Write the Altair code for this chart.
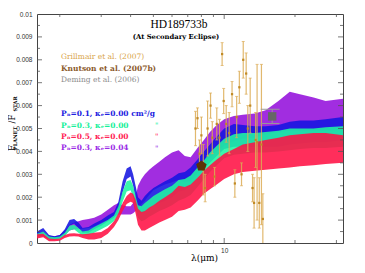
import altair as alt
import pandas as pd

# ---------------- data (flux ratios in units of 1e-3) ----------------
LAM = [1.6, 1.7, 1.8, 1.9, 2.0, 2.1, 2.2, 2.3, 2.4, 2.5, 2.65, 2.8, 3.0, 3.2, 3.4, 3.55,
       3.7, 3.85, 4.0, 4.1, 4.2, 4.3, 4.45, 4.6, 4.8, 5.0, 5.3, 5.6, 6.0, 6.4, 6.8, 7.2,
       7.7, 8.2, 8.7, 9.3, 10, 11, 12, 13.5, 15, 17, 19, 21, 24, 27, 32]

BLUE_LO = [0.30, 0.45, 0.20, 0.18, 0.22, 0.40, 0.75, 0.85, 0.65, 0.45, 0.45, 0.60, 0.75, 0.95, 1.10, 1.40,
           2.20, 2.80, 2.90, 2.50, 1.90, 1.45, 1.30, 1.35, 1.50, 1.60, 1.75, 1.85, 2.00, 2.25, 2.30, 2.50,
           2.85, 3.20, 3.50, 3.80, 4.10, 4.20, 4.20, 4.20, 4.20, 4.20, 4.30, 4.35, 4.40, 4.40, 4.50]
BLUE_HI = [0.50, 0.65, 0.35, 0.30, 0.35, 0.60, 1.00, 1.05, 0.90, 0.65, 0.70, 0.85, 1.00, 1.20, 1.35, 1.80,
           2.70, 3.25, 3.35, 3.00, 2.50, 2.00, 1.85, 2.05, 2.25, 2.40, 2.55, 2.70, 2.85, 3.05, 3.10, 3.30,
           3.65, 4.00, 4.30, 4.65, 5.00, 5.20, 5.15, 5.10, 5.10, 5.15, 5.30, 5.35, 5.35, 5.40, 5.50]

GREEN_LO = [0.25, 0.35, 0.15, 0.14, 0.17, 0.30, 0.55, 0.60, 0.45, 0.33, 0.35, 0.45, 0.60, 0.75, 0.95, 1.25,
            1.80, 2.25, 2.30, 2.00, 1.50, 1.10, 0.95, 1.00, 1.15, 1.25, 1.40, 1.50, 1.65, 1.85, 1.95, 2.10,
            2.45, 2.80, 3.10, 3.40, 3.70, 3.85, 3.90, 3.95, 3.95, 4.00, 4.05, 4.10, 4.15, 4.15, 4.20]
GREEN_HI = [0.40, 0.50, 0.28, 0.25, 0.28, 0.45, 0.75, 0.80, 0.65, 0.50, 0.55, 0.70, 0.85, 1.00, 1.20, 1.60,
            2.25, 2.70, 2.75, 2.50, 2.05, 1.65, 1.60, 1.75, 1.90, 2.05, 2.20, 2.35, 2.50, 2.75, 2.80, 2.95,
            3.30, 3.60, 3.95, 4.25, 4.55, 4.75, 4.80, 4.80, 4.85, 4.90, 5.00, 5.00, 5.00, 5.05, 5.10]

RED_LO = [0.20, 0.25, 0.08, 0.08, 0.10, 0.22, 0.28, 0.30, 0.28, 0.22, 0.15, 0.15, 0.22, 0.40, 0.70, 1.00,
          1.40, 1.70, 1.80, 1.75, 1.30, 0.80, 0.55, 0.55, 0.65, 0.75, 0.90, 1.00, 1.15, 1.40, 1.45, 1.55,
          1.85, 2.15, 2.35, 2.55, 2.80, 3.00, 3.10, 3.15, 3.20, 3.25, 3.30, 3.35, 3.40, 3.45, 3.50]
RED_HI = [0.38, 0.40, 0.20, 0.18, 0.20, 0.35, 0.42, 0.43, 0.40, 0.38, 0.40, 0.45, 0.48, 0.65, 0.95, 1.30,
          1.75, 2.05, 2.20, 2.15, 1.90, 1.50, 1.35, 1.40, 1.55, 1.65, 1.85, 2.00, 2.20, 2.50, 2.45, 2.55,
          2.85, 3.15, 3.40, 3.65, 3.90, 4.10, 4.30, 4.40, 4.50, 4.60, 4.70, 4.75, 4.80, 4.80, 4.70]

PURPLE_LO = [0.28, 0.30, 0.18, 0.18, 0.22, 0.35, 0.55, 0.60, 0.60, 0.62, 0.65, 0.72, 0.88, 1.00, 1.15, 1.25,
             1.25, 1.25, 1.25, 1.30, 1.40, 1.50, 1.70, 1.85, 2.10, 2.30, 2.45, 2.55, 2.65, 2.75, 2.65, 2.70,
             3.05, 3.40, 3.70, 4.00, 4.25, 4.45, 4.55, 4.60, 4.75, 4.85, 4.90, 4.90, 4.90, 4.90, 4.95]
PURPLE_HI = [0.45, 0.50, 0.32, 0.30, 0.35, 0.55, 0.80, 0.90, 0.95, 1.00, 1.05, 1.10, 1.25, 1.45, 1.65, 1.75,
             1.65, 1.60, 1.60, 1.75, 2.00, 2.50, 2.80, 3.00, 3.20, 3.35, 3.55, 3.75, 3.95, 4.05, 3.80, 3.75,
             4.15, 4.50, 4.85, 5.15, 5.40, 5.55, 5.60, 5.65, 5.80, 6.20, 6.60, 6.50, 6.35, 6.20, 6.30]

# Grillmair et al. (2007) IRS points
G_LAM = [7.55, 7.7, 7.85, 8.0, 8.15, 8.3, 8.5, 8.75, 8.9, 9.1, 9.3, 9.55, 9.8, 9.95, 10.2, 10.5,
         10.8, 11.1, 11.3, 11.6, 11.85, 12.05, 12.4, 12.6, 12.9, 13.2, 13.4, 13.6, 13.8, 14.1, 14.4, 14.6]
G_VAL = [5.0, 5.45, 3.9, 4.7, 3.2, 2.4, 5.0, 6.0, 4.6, 2.9, 5.2, 4.6, 8.25, 6.2, 5.2, 4.8,
         6.5, 2.6, 5.5, 6.8, 3.0, 8.0, 7.4, 5.0, 6.0, 2.4, 1.75, 4.5, 4.4, 1.75, 4.3, 1.05]
G_ERR = [0.75, 0.45, 0.6, 0.8, 1.1, 0.6, 1.2, 0.55, 0.7, 0.4, 0.7, 0.8, 0.5, 0.55, 0.8, 0.9,
         0.55, 0.6, 0.9, 0.7, 0.5, 0.8, 0.9, 1.0, 1.2, 0.6, 1.1, 1.2, 3.4, 1.1, 3.5, 1.1]

KNUTSON_LAM = [8.0]
KNUTSON_VAL = [3.36]
DEMING_LAM = [16.0]
DEMING_VAL = [5.53]
DEMING_ERR = [0.31]
DEMING_BAND = [14.3, 17.2]

X_TICKS_MAJOR = [10]
X_TICKS_MINOR = [2, 3, 4, 5, 6, 7, 8, 9, 20, 30]
Y_LABELS = [0, 0.001, 0.002, 0.003, 0.004, 0.005, 0.006, 0.007, 0.008, 0.009, 0.01]
Y_TICKS_MAJOR = [0.001, 0.002, 0.003, 0.004, 0.005, 0.006, 0.007, 0.008, 0.009]
Y_TICKS_MINOR = [0.0005, 0.0015, 0.0025, 0.0035, 0.0045, 0.0055, 0.0065, 0.0075, 0.0085, 0.0095]

U = 1e-3
W, H = 306, 229

XS = alt.Scale(type="log", domain=[1.6, 32], nice=False)
YS = alt.Scale(domain=[0, 0.01], nice=False, zero=False)
AX = alt.Axis(values=X_TICKS_MAJOR, format="d", ticks=False, domain=False, grid=False, title=None,
              labelFont="Liberation Sans", labelFontSize=6.5, labelColor="#333", labelPadding=4)
AY = alt.Axis(values=Y_LABELS, format=".3~f", ticks=False, domain=False, grid=False, title=None,
              labelFont="Liberation Sans", labelFontSize=6.5, labelColor="#333", labelPadding=5)


def xq(f):
    return alt.X(f"{f}:Q", scale=XS, axis=AX)


def yq(f):
    return alt.Y(f"{f}:Q", scale=YS, axis=AY)


def spectrum(lo, hi, color):
    df = pd.DataFrame({"lam": LAM, "lo": [v * U for v in lo], "hi": [v * U for v in hi]})
    return alt.Chart(df).mark_area(color=color, opacity=0.88, clip=True).encode(
        x=xq("lam"), y=yq("lo"), y2="hi")


purple = spectrum(PURPLE_LO, PURPLE_HI, "#9410dc")
blue = spectrum(BLUE_LO, BLUE_HI, "#1414e0")
green = spectrum(GREEN_LO, GREEN_HI, "#1ff5a0")
red = spectrum(RED_LO, RED_HI, "#ff1144")

GOLD = "#dcab55"
gdf = pd.DataFrame({"lam": G_LAM, "val": [v * U for v in G_VAL],
                    "lo": [(v - e) * U for v, e in zip(G_VAL, G_ERR)],
                    "hi": [(v + e) * U for v, e in zip(G_VAL, G_ERR)]})
g_bars = alt.Chart(gdf).mark_rule(color=GOLD, opacity=0.85, strokeWidth=1.2, clip=True).encode(
    x=xq("lam"), y=yq("lo"), y2="hi")
g_cap_lo = alt.Chart(gdf).mark_tick(color=GOLD, orient="horizontal", size=3, thickness=1, clip=True).encode(
    x=xq("lam"), y=yq("lo"))
g_cap_hi = alt.Chart(gdf).mark_tick(color=GOLD, orient="horizontal", size=3, thickness=1, clip=True).encode(
    x=xq("lam"), y=yq("hi"))
g_pts = alt.Chart(gdf).mark_point(shape="square", filled=True, size=5, color="#c08a25", opacity=1, clip=True).encode(
    x=xq("lam"), y=yq("val"))

kdf = pd.DataFrame({"lam": KNUTSON_LAM, "val": [v * U for v in KNUTSON_VAL]})
pentagon = "M0,-1L0.951,-0.309L0.588,0.809L-0.588,0.809L-0.951,-0.309Z"
knutson = alt.Chart(kdf).mark_point(shape=pentagon, filled=True, size=120, color="#5a3208", opacity=1).encode(
    x=xq("lam"), y=yq("val"))

ddf = pd.DataFrame({"lam": DEMING_LAM, "val": [v * U for v in DEMING_VAL],
                    "lo": [(v - e) * U for v, e in zip(DEMING_VAL, DEMING_ERR)],
                    "hi": [(v + e) * U for v, e in zip(DEMING_VAL, DEMING_ERR)],
                    "b0": [DEMING_BAND[0]], "b1": [DEMING_BAND[1]]})
d_bar = alt.Chart(ddf).mark_rule(color="#999999", strokeWidth=1).encode(x=xq("lam"), y=yq("lo"), y2="hi")
d_cap_hi = alt.Chart(ddf).mark_rule(color="#999999", strokeWidth=1).encode(x=xq("b0"), x2="b1", y=yq("hi"))
d_cap_lo = alt.Chart(ddf).mark_rule(color="#999999", strokeWidth=1).encode(x=xq("b0"), x2="b1", y=yq("lo"))
deming = alt.Chart(ddf).mark_point(shape="square", filled=True, size=70, color="#666666", opacity=1).encode(
    x=xq("lam"), y=yq("val"))

# inward ticks on all four sides
TICK = "#555555"
xmaj = pd.DataFrame({"lam": X_TICKS_MAJOR})
xmin = pd.DataFrame({"lam": X_TICKS_MINOR})
ymaj = pd.DataFrame({"val": Y_TICKS_MAJOR})
ymin = pd.DataFrame({"val": Y_TICKS_MINOR})
ticks = []
for df, ln in ((xmaj, 5), (xmin, 3)):
    ticks.append(alt.Chart(df).mark_rule(color=TICK, strokeWidth=0.8).encode(
        x=xq("lam"), y=alt.value(H), y2=alt.value(H - ln)))
    ticks.append(alt.Chart(df).mark_rule(color=TICK, strokeWidth=0.8).encode(
        x=xq("lam"), y=alt.value(0), y2=alt.value(ln)))
for df, ln in ((ymaj, 5), (ymin, 3)):
    ticks.append(alt.Chart(df).mark_rule(color=TICK, strokeWidth=0.8).encode(
        y=yq("val"), x=alt.value(0), x2=alt.value(ln)))
    ticks.append(alt.Chart(df).mark_rule(color=TICK, strokeWidth=0.8).encode(
        y=yq("val"), x=alt.value(W), x2=alt.value(W - ln)))

one = pd.DataFrame({"a": [0]})


def label(txt, x, y, color="#000", size=7.5, font="DejaVu Serif", weight="normal", align="left", angle=0,
          style="normal"):
    return alt.Chart(one).mark_text(text=txt, color=color, fontSize=size, font=font, fontWeight=weight,
                                    align=align, baseline="middle", angle=angle, fontStyle=style).encode(
        x=alt.value(x), y=alt.value(y))


texts = [
    label("HD189733b", 142, 11, size=11.5, font="Liberation Serif", align="center"),
    label("(At Secondary Eclipse)", 139, 22.5, size=6.8, weight="bold", align="center"),
    label("Grillmair et al. (2007)", 24, 43, color="#d9a449"),
    label("Knutson et al. (2007b)", 24, 54.5, color="#8b5a2b", weight="bold"),
    label("Deming et al. (2006)", 24, 66, color="#8c8c8c"),
    label("P\u2099=0.1, \u03ba\u2091=0.00 cm\u00b2/g", 24, 100, color="#2020e0", weight="bold"),
    label("P\u2099=0.3, \u03ba\u2091=0.00", 24, 111.7, color="#16f09a", weight="bold"),
    label("P\u2099=0.5, \u03ba\u2091=0.00", 24, 122.7, color="#ff2255", weight="bold"),
    label("P\u2099=0.3, \u03ba\u2091=0.04", 24, 134.3, color="#9a2ae6", weight="bold"),
    label("\"", 118, 112, color="#16f09a", size=7.5),
    label("\"", 118, 123, color="#ff2255", size=7.5),
    label("\"", 118, 134.5, color="#9a2ae6", size=7.5),
    label("\u03bb(\u03bcm)", 154, 244, size=9),
    label("F", -25.5, 134, size=8.5, align="center", angle=270),
    label("PLANET", -22.5, 124.5, size=5, align="center", angle=270, weight="bold"),
    label("/F", -25.5, 105, size=8.5, align="center", angle=270),
    label("STAR", -22.5, 90, size=5, align="center", angle=270, weight="bold"),
]

chart = alt.layer(
    purple, blue, green, red,
    g_bars, g_cap_lo, g_cap_hi, g_pts,
    d_cap_hi, d_cap_lo, d_bar, deming, knutson,
    *ticks, *texts
).properties(
    width=W, height=H,
    autosize=alt.AutoSizeParams(type="none"),
    padding={"left": 29, "top": 6, "right": 14, "bottom": 22},
).configure_view(stroke="#444444", strokeWidth=1)

chart.save("out.html", embed_options={"renderer": "svg", "actions": False})
